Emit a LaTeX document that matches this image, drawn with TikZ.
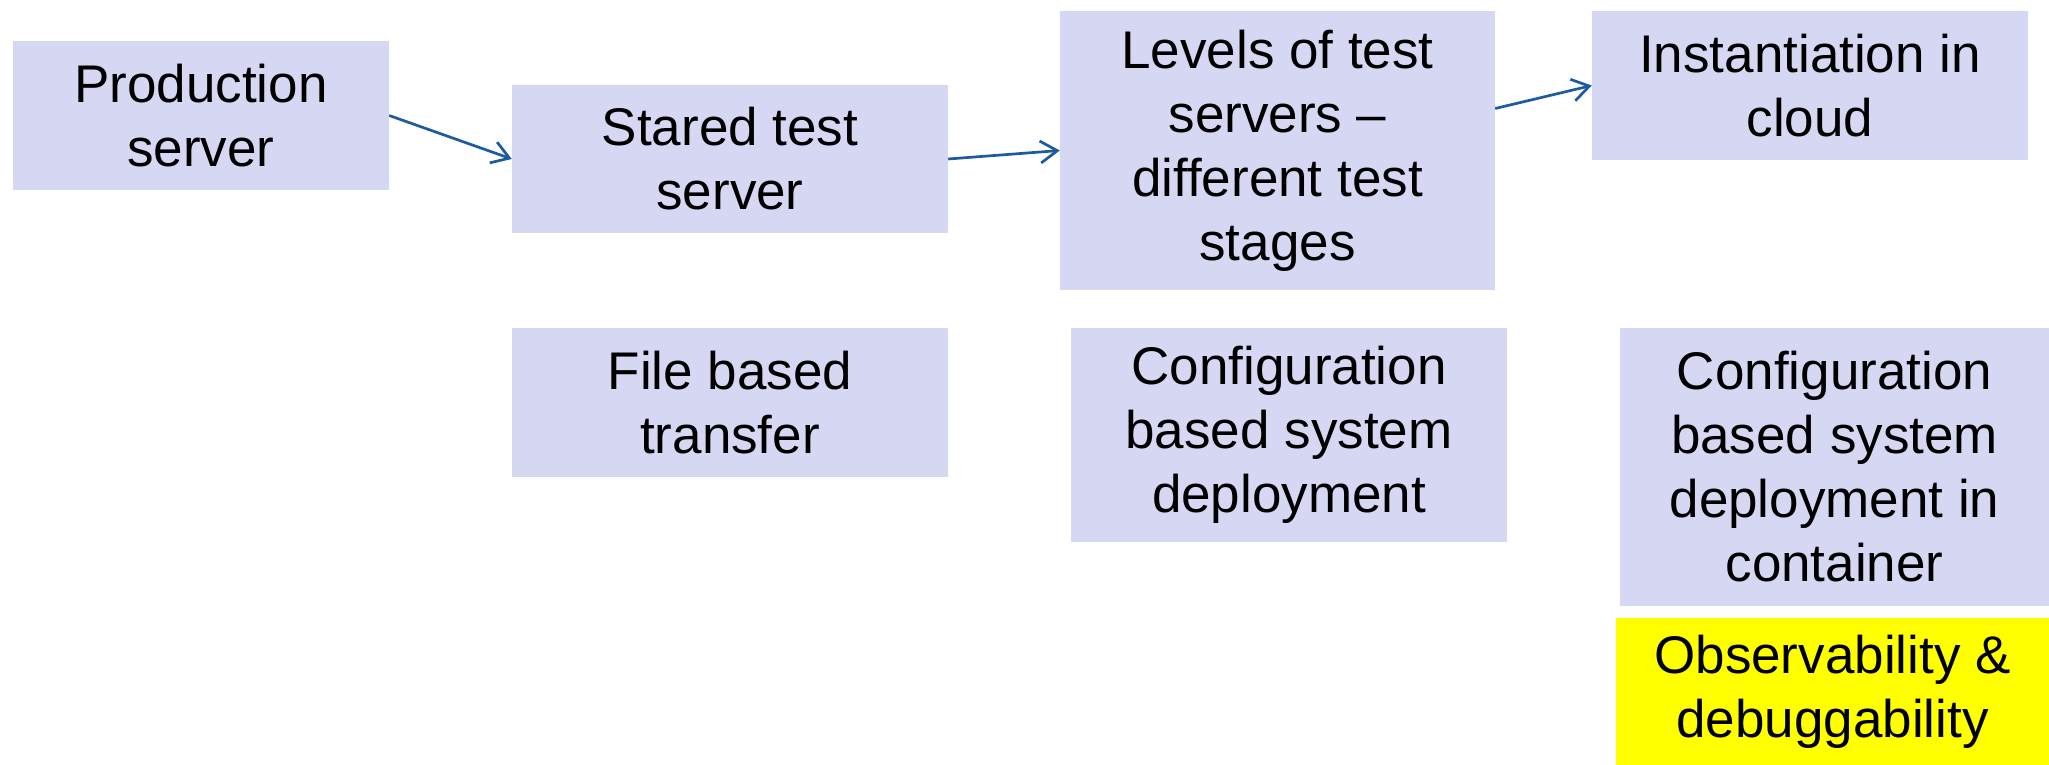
\documentclass[tikz,border=0pt]{standalone}
\usepackage{fontspec}
\setmainfont{Liberation Sans}
\usetikzlibrary{arrows.meta}
\definecolor{boxfill}{RGB}{214,215,243}
\definecolor{hilite}{RGB}{255,255,0}
\definecolor{arrowblue}{RGB}{30,90,160}
\begin{document}
\begin{tikzpicture}[x=1pt,y=-1pt,
  box/.style={fill=boxfill, draw=none, inner sep=0pt, align=center,
    font=\fontsize{53}{64}\selectfont, text=black},
  flow/.style={draw=arrowblue, line width=2.7pt, -{Straight Barb[length=17pt,width=22pt,line width=2.7pt]}}]
\useasboundingbox (0,0) rectangle (2049,765);
\node[box, minimum width=376pt, minimum height=149pt] (p1) at (201,115.5) {Production\\server};
\node[box, minimum width=436pt, minimum height=148pt] (p2) at (730,159) {Stared test\\server};
\node[box, minimum width=435pt, minimum height=279pt] (p3) at (1277.5,150.5) {Levels of test\\servers –\\different test\\stages};
\node[box, minimum width=436pt, minimum height=149pt] (p4) at (1810,85.5) {Instantiation in\\cloud};
\node[box, minimum width=436pt, minimum height=149pt] (p5) at (730,402.5) {File based\\transfer};
\node[box, minimum width=436pt, minimum height=214pt] (p6) at (1289,435) {Configuration\\based system\\deployment};
\node[box, minimum width=429pt, minimum height=278pt] (p7) at (1834.5,467) {Configuration\\based system\\deployment in\\container};
\node[box, fill=hilite, minimum width=433pt, minimum height=147pt] (p8) at (1832.5,691.5) {Observability \&\\debuggability};
\coordinate (a3) at ([yshift=42pt]p3.east);
\draw[flow] (p1.east) -- (p2.west);
\draw[flow] (p2.east) -- (p3.west);
\draw[flow] (a3) -- (p4.west);
\end{tikzpicture}
\end{document}
